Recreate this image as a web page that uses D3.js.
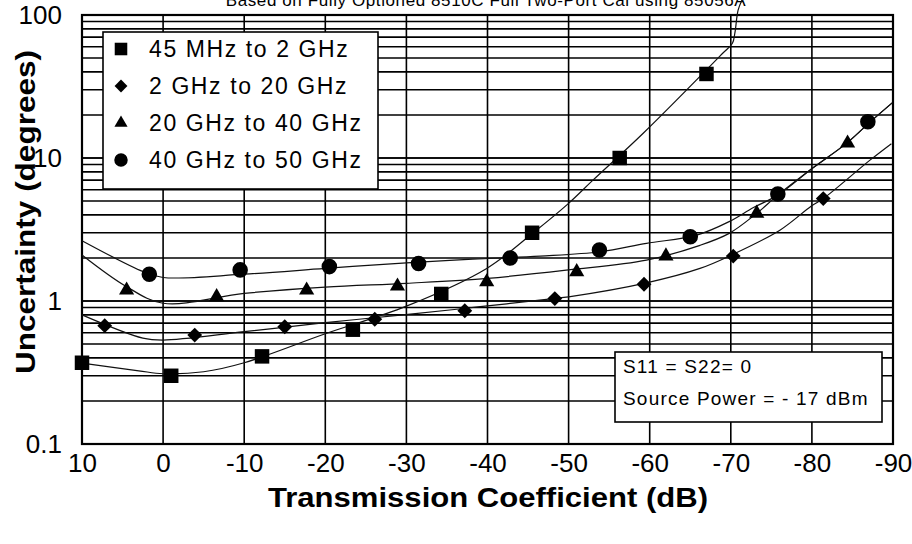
<!DOCTYPE html>
<html><head><meta charset="utf-8">
<script src="https://cdn.jsdelivr.net/npm/d3@7"></script>
<style>
body{margin:0;background:#fff;}
text{font-family:"Liberation Sans",Arial,sans-serif;fill:#000;}
</style></head>
<body><svg id="c" width="912" height="544"></svg>
<script>
// ---- data ----
const xTicks = [10, 0, -10, -20, -30, -40, -50, -60, -70, -80, -90];
const yTicks = [0.1, 1, 10, 100];
const yTickLabels = ["0.1", "1", "10", "100"];
const seriesNames = ["45 MHz to 2 GHz", "2 GHz to 20 GHz", "20 GHz to 40 GHz", "40 GHz to 50 GHz"];

// measured points (markers)
const ptsSquare = [[10,0.37],[-1,0.30],[-12.2,0.41],[-23.4,0.63],[-34.3,1.12],[-45.5,3.0],[-56.3,10.0],[-67,38.7]];
const ptsDiamond = [[7.2,0.672],[-3.9,0.578],[-15,0.661],[-26.1,0.745],[-37.2,0.855],[-48.3,1.04],[-59.3,1.31],[-70.3,2.06],[-81.4,5.2]];
const ptsTriangle = [[4.5,1.19],[-6.6,1.07],[-17.7,1.19],[-28.9,1.27],[-39.9,1.36],[-51,1.6],[-62,2.06],[-73.2,4.1],[-84.4,12.7]];
const ptsCircle = [[1.7,1.54],[-9.5,1.65],[-20.5,1.74],[-31.5,1.83],[-42.8,2.0],[-53.8,2.27],[-65,2.81],[-75.8,5.6],[-86.9,17.9]];

// fitted curves
const fitSquare = [[10,0.368],[3,0.325],[0,0.31],[-5,0.32],[-10,0.37],[-20,0.59],[-30,0.92],[-39.9,1.69],[-45.6,2.99],[-50,4.82],[-53,7.0],[-59.2,14.9],[-69,54],[-70.2,63.5],[-70.5,74.6],[-70.9,108],[-71.4,128]];
const fitDiamond = [[10,0.80],[2.5,0.55],[0,0.533],[-10,0.61],[-20,0.705],[-30.2,0.807],[-39.1,0.912],[-48.1,1.04],[-50,1.07],[-59.6,1.34],[-66.2,1.69],[-69.8,2.06],[-76.1,3.14],[-79.9,4.6],[-81.4,5.2],[-87.2,9.7],[-89.8,12.6]];
const fitTriangle = [[10,2.10],[4.6,1.27],[0,0.964],[-10,1.13],[-20,1.25],[-30,1.33],[-40,1.44],[-50,1.65],[-59.6,1.93],[-66.2,2.45],[-69.8,2.97],[-73.1,4.06],[-75.8,5.5],[-80.1,8.5],[-84.3,12.7],[-87.2,17.9],[-89.9,24.3]];
const fitCircle = [[10,2.64],[2.4,1.60],[0,1.46],[-10,1.54],[-20,1.69],[-30,1.85],[-38.2,1.96],[-46.5,2.06],[-53.9,2.21],[-59.6,2.53],[-65.8,2.89],[-69.8,3.59],[-72.8,4.5],[-75.8,5.5],[-80.1,8.5],[-84.3,12.7],[-87.2,17.9],[-89.9,24.3]];

const titleText = "Based on Fully Optioned 8510C Full Two-Port Cal using 85056A";
const noteLines = ["S11 = S22= 0", "Source Power = - 17  dBm"];

// ---- drawing ----
const svg = d3.select("#c");
svg.append("rect").attr("width",912).attr("height",544).attr("fill","#fff");
const x = d3.scaleLinear().domain([10,-90]).range([82,893]);
const y = d3.scaleLog().domain([0.1,100]).range([444,15]);

// grid
const minor = [];
[0.1,1,10].forEach(d => { for (let k=1;k<=10;k++) minor.push(d*k); });
const grid = svg.append("g").attr("stroke","#000").attr("stroke-width",1.6);
grid.selectAll("line.h").data(minor).join("line")
  .attr("x1",x(10)).attr("x2",x(-90)).attr("y1",d=>y(d)).attr("y2",d=>y(d));
grid.selectAll("line.v").data(xTicks).join("line")
  .attr("y1",y(0.1)).attr("y2",y(100)).attr("x1",d=>x(d)).attr("x2",d=>x(d));
svg.append("rect").attr("x",x(10)).attr("y",y(100)).attr("width",x(-90)-x(10)).attr("height",y(0.1)-y(100))
  .attr("fill","none").attr("stroke","#000").attr("stroke-width",2.2);

// axes
const xAxis = d3.axisBottom(x).tickValues(xTicks).tickSize(0).tickPadding(10).tickFormat(d=>String(d));
const gx = svg.append("g").attr("transform",`translate(0,${y(0.1)})`).call(xAxis);
gx.select(".domain").remove();
gx.selectAll("text").style("font-size","26px").attr("fill","#000");

const yAxis = d3.axisLeft(y).tickValues(yTicks).tickSize(0).tickPadding(20).tickFormat((d,i)=>yTickLabels[i]);
const gy = svg.append("g").attr("transform",`translate(${x(10)},0)`).call(yAxis);
gy.select(".domain").remove();
gy.selectAll("text").style("font-size","26px").attr("fill","#000");

// titles
svg.append("text").attr("x",488).attr("y",507).attr("text-anchor","middle")
  .attr("textLength",440).attr("lengthAdjust","spacingAndGlyphs")
  .style("font-size","27px").style("font-weight","bold").text("Transmission Coefficient (dB)");
svg.append("text").attr("transform","translate(35,212) rotate(-90)").attr("text-anchor","middle")
  .attr("textLength",324).attr("lengthAdjust","spacingAndGlyphs")
  .style("font-size","27px").style("font-weight","bold").text("Uncertainty (degrees)");
svg.append("text").attr("x",486).attr("y",6).attr("text-anchor","middle")
  .style("font-size","17px").style("letter-spacing","0.6px").attr("fill","#222").text(titleText);

// legend box (under curves)
const leg = svg.append("g");
leg.append("rect").attr("x",103).attr("y",32).attr("width",275).attr("height",157)
  .attr("fill","#fff").attr("stroke","#000").attr("stroke-width",1.6);

// note box
const note = svg.append("g");
note.append("rect").attr("x",615).attr("y",352).attr("width",267).attr("height",70)
  .attr("fill","#fff").attr("stroke","#000").attr("stroke-width",1.6);
note.selectAll("text").data(noteLines).join("text")
  .attr("x",623).attr("y",(d,i)=>373+i*32)
  .style("font-size","19px").style("letter-spacing","1.2px").text(d=>d);

// curves
const line = d3.line().x(d=>x(d[0])).y(d=>y(d[1])).curve(d3.curveCatmullRom.alpha(0.5));
[fitSquare, fitDiamond, fitTriangle, fitCircle].forEach(f => {
  svg.append("path").datum(f).attr("d",line).attr("fill","none").attr("stroke","#111").attr("stroke-width",1.2);
});

// markers
const symbols = [
  {type:d3.symbolSquare, size:210, rot:0},
  {type:d3.symbolSquare, size:110, rot:45},
  {type:d3.symbolTriangle, size:100, rot:0},
  {type:d3.symbolCircle, size:190, rot:0}
];
const allPts = [ptsSquare, ptsDiamond, ptsTriangle, ptsCircle];
allPts.forEach((pts,i) => {
  const s = symbols[i];
  svg.append("g").selectAll("path").data(pts).join("path")
    .attr("d", d3.symbol().type(s.type).size(s.size))
    .attr("transform", d=>`translate(${x(d[0])},${y(d[1])}) rotate(${s.rot})`)
    .attr("fill","#000");
});

// legend entries
seriesNames.forEach((name,i) => {
  const cy = 49 + i*37;
  const s = symbols[i];
  leg.append("path").attr("d", d3.symbol().type(s.type).size(s.size*0.75))
    .attr("transform",`translate(121,${cy}) rotate(${s.rot})`).attr("fill","#000");
  leg.append("text").attr("x",149).attr("y",cy).attr("dy","0.36em")
    .style("font-size","23px").style("letter-spacing","1.6px").text(name);
});
</script></body></html>
